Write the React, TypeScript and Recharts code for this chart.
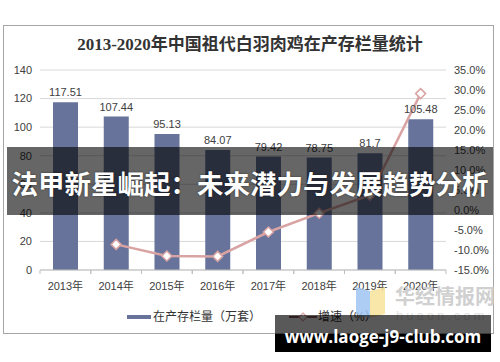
import React from 'react';
import {
  ComposedChart, Bar, Line, XAxis, YAxis, CartesianGrid, LabelList,
} from 'recharts';

const years = ['2013年', '2014年', '2015年', '2016年', '2017年', '2018年', '2019年', '2020年'];
const stock = [117.51, 107.44, 95.13, 84.07, 79.42, 78.75, 81.7, 105.48];
const growth: (number | null)[] = [null, -8.6, -11.5, -11.6, -5.5, -0.8, 3.7, 29.1];
const leftTicks = [0, 20, 40, 60, 80, 100, 120, 140];
const rightTicks = [-15, -10, -5, 0, 5, 10, 15, 20, 25, 30, 35];
const title = '2013-2020年中国祖代白羽肉鸡在产存栏量统计';
const barName = '在产存栏量（万套）';
const lineName = '增速（%）';
const bannerText = '法甲新星崛起：未来潜力与发展趋势分析';
const urlText = 'www.laoge-j9-club.com';

const data = years.map((y, i) => ({ year: y, stock: stock[i], growth: growth[i] }));

const W = 500;
const H = 362;
const LEFT_W = 40;
const RIGHT_W = 54;
const BAND = (W - LEFT_W - RIGHT_W) / years.length;

const BAR_COLOR = '#67739A';
const LINE_COLOR = '#D9A3A3';
const TXT = '#404040';
const FONT = '"Liberation Sans", Arial, "Noto Sans CJK SC", sans-serif';

const Diamond = (props: any) => {
  const { cx, cy, value } = props;
  if (value === null || value === undefined || cx == null || cy == null) return null;
  const r = 5;
  return (
    <path
      d={`M${cx},${cy - r}L${cx + r},${cy}L${cx},${cy + r}L${cx - r},${cy}Z`}
      fill="#fff"
      stroke={LINE_COLOR}
      strokeWidth={1.5}
    />
  );
};

const XTick = (props: any) => {
  const { x, y, payload } = props;
  const half = BAND / 2;
  return (
    <g>
      <line x1={x - half} y1={y - 8} x2={x - half} y2={y - 4} stroke="#bfbfbf" />
      <line x1={x + half} y1={y - 8} x2={x + half} y2={y - 4} stroke="#bfbfbf" />
      <text x={x} y={y + 12} textAnchor="middle" fontSize={11} fill={TXT} fontFamily={FONT}>
        {payload.value}
      </text>
    </g>
  );
};

export default function App() {
  return (
    <div style={{ position: 'absolute', left: 0, top: 0, width: W, height: H, background: '#fff', overflow: 'hidden' }}>
      <div style={{ position: 'absolute', left: 3, top: 25, width: 491, height: 309, border: '1px solid #a6a6a6', boxSizing: 'border-box' }} />
      <div style={{ position: 'absolute', left: 0, top: 33, width: W, textAlign: 'center', fontFamily: '"Liberation Serif", "Noto Sans CJK SC", serif', fontWeight: 700, fontSize: 17, lineHeight: '24px', color: '#333' }}>
        {title}
      </div>
      <div style={{ position: 'absolute', left: 0, top: 0 }}>
        <ComposedChart width={W} height={H} data={data} margin={{ top: 70, right: 0, bottom: 62, left: 0 }}>
          <CartesianGrid yAxisId="left" vertical={false} stroke="#d9d9d9" />
          <XAxis
            dataKey="year"
            tick={<XTick />}
            tickLine={false}
            axisLine={{ stroke: '#bfbfbf' }}
            height={30}
            interval={0}
          />
          <YAxis
            yAxisId="left"
            domain={[0, 140]}
            ticks={leftTicks}
            width={LEFT_W}
            axisLine={false}
            tickLine={false}
            tick={{ fontSize: 11, fill: TXT, fontFamily: FONT }}
            interval={0}
          />
          <YAxis
            yAxisId="right"
            orientation="right"
            domain={[-15, 35]}
            ticks={rightTicks}
            width={RIGHT_W}
            axisLine={false}
            tickLine={false}
            tick={{ fontSize: 11, fill: TXT, fontFamily: FONT, textAnchor: 'start' } as any}
            tickFormatter={(v: number) => `${v.toFixed(1)}%`}
            interval={0}
          />
          <Bar yAxisId="left" dataKey="stock" name={barName} fill={BAR_COLOR} barSize={25} isAnimationActive={false}>
            <LabelList dataKey="stock" position="top" offset={6} fontSize={11} fill={TXT} fontFamily={FONT} />
          </Bar>
          <Line
            yAxisId="right"
            dataKey="growth"
            name={lineName}
            stroke={LINE_COLOR}
            strokeWidth={2.5}
            dot={<Diamond />}
            activeDot={false}
            type="linear"
            isAnimationActive={false}
          />
        </ComposedChart>
      </div>
      {/* legend */}
      <div style={{ position: 'absolute', left: 0, top: 308, width: W, height: 20, fontFamily: FONT, fontSize: 12, color: '#333' }}>
        <div style={{ position: 'absolute', left: 127, top: 7, width: 24, height: 4, background: BAR_COLOR }} />
        <div style={{ position: 'absolute', left: 153, top: 0, lineHeight: '18px', whiteSpace: 'nowrap' }}>{barName}</div>
        <svg style={{ position: 'absolute', left: 289, top: 1 }} width={28} height={16}>
          <line x1={0} y1={8} x2={28} y2={8} stroke="#8a5a5a" strokeWidth={2} />
          <path d="M14,4L18,8L14,12L10,8Z" fill="#fff" stroke={LINE_COLOR} strokeWidth={1.2} />
        </svg>
        <div style={{ position: 'absolute', left: 318, top: 0, lineHeight: '18px', whiteSpace: 'nowrap' }}>{lineName}</div>
      </div>
      {/* watermark */}
      <svg style={{ position: 'absolute', left: 0, top: 0 }} width={W} height={H}>
        <polygon points="356,287 370,291 370,318 356,314" fill="#9fc4f2" opacity={0.85} />
        <polygon points="370,291 385,287 385,314 370,318" fill="#f7e39a" opacity={0.85} />
        <text x={395} y={304} fontSize={20} fontWeight={700} fill="#d0d0d0" fontFamily='"Noto Sans CJK SC", sans-serif'>华经情报网</text>
        <text x={396} y={320} fontSize={13} fill="#e2e2e2" letterSpacing={3} fontFamily={FONT}>huaon.com</text>
      </svg>
      {/* banner */}
      <div style={{ position: 'absolute', left: 7, top: 147, width: 486, height: 68, background: 'rgba(0,0,0,0.6)' }} />
      <div style={{ position: 'absolute', left: 0, top: 165, width: W, textAlign: 'center', color: '#fff', fontWeight: 700, fontSize: 26.5, lineHeight: '36px', fontFamily: '"Noto Sans CJK SC", sans-serif', whiteSpace: 'nowrap', textShadow: '0 0 2px rgba(0,0,0,0.6)' }}>
        {bannerText}
      </div>
      <div style={{ position: 'absolute', left: 275, top: 315, width: 216, height: 37, background: 'rgba(0,0,0,0.65)' }} />
      <div style={{ position: 'absolute', left: 275, top: 334, width: 216, height: 18, background: '#000' }} />
      <div style={{ position: 'absolute', left: 275, top: 326, width: 216, textAlign: 'center', color: '#fff', fontWeight: 700, fontSize: 17, lineHeight: '22px', fontFamily: '"Open Sans", sans-serif', whiteSpace: 'nowrap' }}>
        {urlText}
      </div>
    </div>
  );
}
